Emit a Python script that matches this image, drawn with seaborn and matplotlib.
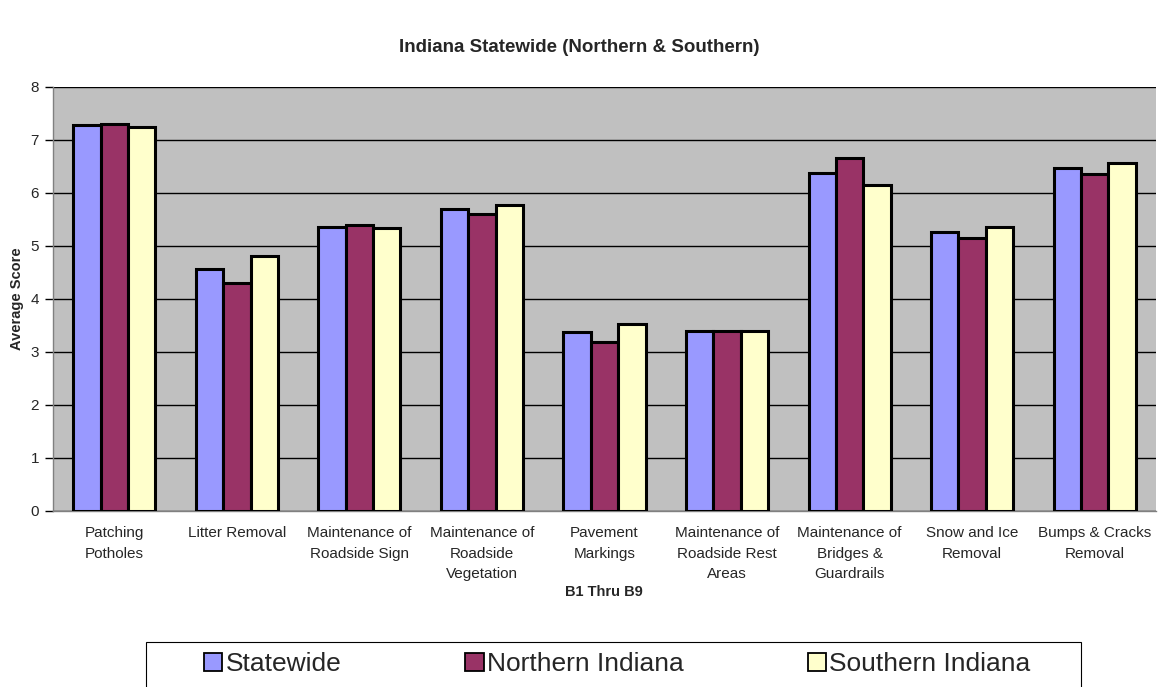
import matplotlib
matplotlib.use("Agg")
import matplotlib.pyplot as plt
import seaborn as sns
import pandas as pd
import numpy as np
from matplotlib.patches import Patch, Rectangle

categories = ["Patching\nPotholes", "Litter Removal", "Maintenance of\nRoadside Sign",
              "Maintenance of\nRoadside\nVegetation", "Pavement\nMarkings",
              "Maintenance of\nRoadside Rest\nAreas", "Maintenance of\nBridges &\nGuardrails",
              "Snow and Ice\nRemoval", "Bumps & Cracks\nRemoval"]
statewide = [7.27, 4.56, 5.36, 5.69, 3.37, 3.39, 6.38, 5.26, 6.46]
northern = [7.30, 4.29, 5.39, 5.60, 3.19, 3.39, 6.65, 5.15, 6.35]
southern = [7.24, 4.81, 5.33, 5.77, 3.53, 3.39, 6.14, 5.36, 6.56]
series = ["Statewide", "Northern Indiana", "Southern Indiana"]
colors = ["#9999FF", "#993366", "#FFFFCC"]

rows = []
for name, vals in zip(series, [statewide, northern, southern]):
    for c, v in zip(categories, vals):
        rows.append({"Category": c, "Series": name, "Score": v})
df = pd.DataFrame(rows)

sns.set_style("white")
plt.rcParams['font.family'] = ['Liberation Sans', 'DejaVu Sans']

W, H = 1158, 687
fig = plt.figure(figsize=(W/100, H/100), dpi=100)
ax = fig.add_axes([53/W, 1-511/H, (1156-53)/W, (511-86.7)/H])
ax.set_facecolor("#C0C0C0")

sns.barplot(data=df, x="Category", y="Score", hue="Series", order=categories,
            hue_order=series, palette=colors, width=0.67, edgecolor="black",
            linewidth=2.2, saturation=1, ax=ax, legend=False, zorder=3)

ax.set_ylim(0, 8)
ax.set_xlim(-0.5, len(categories) - 0.5)
ax.set_yticks(range(0, 9))
ax.yaxis.grid(True, color="black", linewidth=1.0, zorder=0)
ax.set_axisbelow(True)
for s in ["top", "right"]:
    ax.spines[s].set_visible(False)
for s in ["left", "bottom"]:
    ax.spines[s].set_color("#808080")
    ax.spines[s].set_linewidth(1.0)

ax.set_xticks(range(len(categories)))
ax.set_xticklabels(categories, fontsize=11, linespacing=1.6)
ax.tick_params(axis="x", which="major", length=0, pad=11)
ax.set_xticks(np.arange(-0.5, len(categories), 1.0), minor=True)
ax.tick_params(axis="x", which="minor", length=6, color="black", width=1)
ax.tick_params(axis="y", length=6, color="black", width=1, labelsize=11, left=True, pad=4)

ax.set_xlabel("")
ax.set_ylabel("Average Score", fontsize=10.5, fontweight="bold", labelpad=5)
fig.text(604/W, 1-592/H, "B1 Thru B9", ha="center", va="center",
         fontsize=10.5, fontweight="bold")
fig.text(0.5, 1-47/H, "Indiana Statewide (Northern & Southern)", ha="center",
         va="center", fontsize=13.5, fontweight="bold")

# legend frame (extends past bottom edge like the reference)
fig.patches.append(Rectangle((146/W, -0.05), (1081-146)/W, 0.05 + (H-642)/H,
                             transform=fig.transFigure, facecolor="white",
                             edgecolor="black", linewidth=0.8, zorder=1))

handles = [Patch(facecolor=c, edgecolor="black", linewidth=1.3, label=n) for c, n in zip(colors, series)]
leg = fig.legend(handles=handles, loc="center left", ncol=3,
                 bbox_to_anchor=(204/W, 1-664/H),
                 fontsize=19, frameon=False, handlelength=0.7,
                 handleheight=0.7, handletextpad=0.12, columnspacing=4.7,
                 borderaxespad=0, borderpad=0)

fig.savefig("out.png", dpi=100, facecolor="white")
